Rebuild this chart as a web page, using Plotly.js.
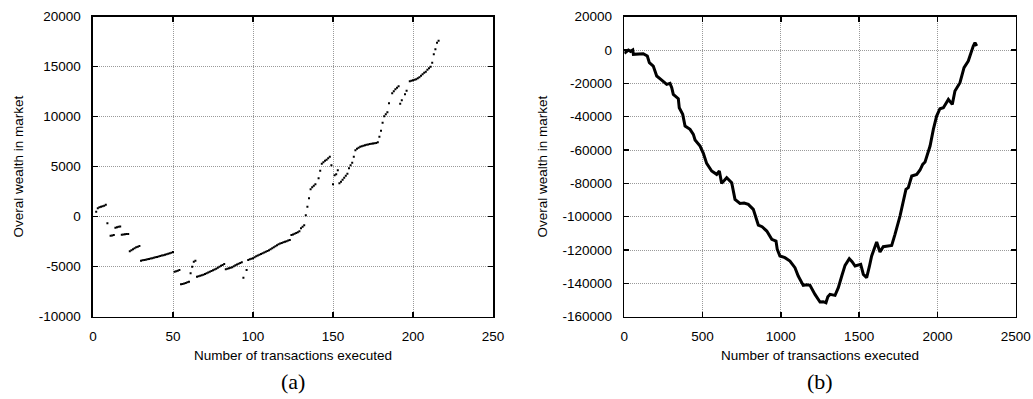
<!DOCTYPE html>
<html>
<head>
<meta charset="utf-8">
<script src="https://cdn.plot.ly/plotly-3.0.1.min.js"></script>
<style>html,body{margin:0;padding:0;background:#fff;}#chart{width:1033px;height:399px;}</style>
</head>
<body>
<div id="chart"></div>
<script>
// Panel (a): overall wealth vs transactions (scatter dots)
const aX = [2,3,4,5,6,7,8,9,11,12,13,14,15,16,17,18,19,20,21,22,
  23,24,25,26,27,28,29,
  30,31,32,33,34,35,36,37,38,39,40,41,42,43,44,45,46,47,48,49,50,
  51,52,53,54,55,56,57,58,59,60,61,62,63,64,
  65,66,67,68,69,70,71,72,73,74,75,76,77,78,79,80,81,82,
  83,84,85,86,87,88,89,90,91,92,93,94,96,
  97,98,99,100,101,102,103,104,105,106,107,108,109,110,111,112,113,114,115,116,117,118,119,120,121,122,123,
  124,125,126,127,128,129,130,131,132,133,134,135,136,137,138,139,141,142,143,144,145,146,147,148,149,
  150,151,152,153,154,155,156,157,158,159,160,161,162,163,
  164,165,166,167,168,169,170,171,172,173,174,175,176,177,178,
  179,180,181,182,183,184,185,187,188,189,190,191,192,193,195,196,
  198,199,200,201,202,203,204,205,206,207,208,209,210,211,212,213,214,215,216];
const aY = [500,850,950,1000,1050,1100,1200,-650,-1900,-1870,-1830,-1100,-1050,-1000,-980,-1800,-1780,-1760,-1740,-1720,
  -3450,-3350,-3250,-3150,-3050,-3000,-2930,
  -4400,-4360,-4330,-4300,-4260,-4220,-4190,-4150,-4100,-4060,-4020,-3980,-3930,-3890,-3850,-3800,-3750,-3700,-3650,-3600,-3520,
  -5500,-5450,-5400,-5330,-6750,-6720,-6680,-6620,-6560,-6500,-5650,-5000,-4500,-4400,
  -6000,-5950,-5900,-5850,-5800,-5720,-5650,-5580,-5500,-5420,-5350,-5270,-5200,-5100,-5000,-4900,-4820,-4730,
  -5260,-5200,-5150,-5100,-5050,-4950,-4850,-4780,-4700,-4620,-4560,-6100,-5330,
  -4330,-4250,-4200,-4150,-4050,-3950,-3870,-3800,-3720,-3650,-3580,-3500,-3420,-3350,-3250,-3150,-3050,-2950,-2850,-2760,-2690,-2620,-2560,-2500,-2450,-2390,-2330,
  -1830,-1780,-1700,-1620,-1550,-1450,-1150,-1000,-850,150,1000,1850,2750,2950,3100,3250,3850,4600,5300,5450,5600,5700,5850,6000,5150,
  3250,4150,4250,4650,3350,3500,3700,3900,4100,4300,4850,5150,5400,6000,
  6650,6800,6900,7000,7050,7100,7150,7200,7230,7260,7290,7320,7350,7380,7440,
  8000,8600,9400,10050,10250,10450,11350,12350,12550,12750,12900,13050,11300,11650,12250,12600,
  13550,13600,13650,13700,13750,13850,13950,14100,14250,14400,14500,14700,14850,15000,15400,16250,16750,17400,17600];

// Panel (b)
const bX = [0,4,15,26,40,54,58,90,121,147,160,185,207,239,271,292,303,313,345,351,373,388,420,441,452,484,505,526,547,558,590,607,622,654,686,707,739,765,792,824,856,880,910,942,969,977,994,1026,1058,1090,1111,1143,1165,1186,1218,1250,1270,1288,1300,1314,1346,1367,1389,1410,1437,1455,1474,1510,1527,1548,1565,1580,1612,1633,1654,1708,1729,1761,1799,1814,1836,1868,1889,1906,1921,1953,1974,1995,2016,2038,2070,2095,2112,2144,2170,2197,2229,2240,2251];
const bY = [-2000,-1600,-1000,0,-800,0,-2600,-2400,-2200,-3600,-7600,-9600,-15600,-18000,-20600,-20000,-22600,-26600,-29200,-34600,-38600,-45600,-47600,-50600,-54000,-57600,-62000,-68000,-71200,-72600,-74600,-72600,-80000,-76600,-79600,-89600,-92000,-91800,-92600,-95600,-105000,-106000,-108600,-113600,-114600,-119600,-123600,-124600,-126600,-130600,-135600,-141200,-140800,-141200,-146600,-151200,-151000,-151600,-148000,-146600,-147200,-142600,-135600,-129200,-125200,-127000,-129600,-128600,-134600,-136600,-130000,-123600,-115200,-121200,-118000,-117200,-110600,-99600,-83600,-82600,-75600,-74600,-72000,-68600,-67200,-57600,-47600,-39600,-35200,-34600,-29600,-32600,-24600,-19600,-10600,-6600,2400,4400,2400];

// Tick labels
const aXTicks = [0,50,100,150,200,250];
const aYTicks = [-10000,-5000,0,5000,10000,15000,20000];
const bXTicks = [0,500,1000,1500,2000,2500];
const bYTicks = [-160000,-140000,-120000,-100000,-80000,-60000,-40000,-20000,0,20000];
const xTitle = 'Number of transactions executed';
const yTitle = 'Overal wealth in market';
const captions = ['(a)','(b)'];

const FONT = 'Liberation Sans, Arial, Helvetica, sans-serif';
const SERIF = 'Liberation Serif, Times New Roman, serif';
const W = 1033, H = 399;

function axisCommon(extra){
  return Object.assign({
    showline:true, linecolor:'#000', linewidth:1.6, mirror:'ticks',
    ticks:'inside', ticklen:5, tickwidth:1.3, tickcolor:'#000',
    showgrid:true, gridcolor:'#9a9a9a', gridwidth:1, griddash:'1px,1px',
    zeroline:false, tickfont:{family:FONT, size:13.5, color:'#000'},
    fixedrange:true
  }, extra);
}

const traces = [
  {x:aX, y:aY, xaxis:'x', yaxis:'y', type:'scatter', mode:'markers',
   marker:{symbol:'square', size:2, color:'#000', line:{width:0}}, hoverinfo:'skip'},
  {x:bX, y:bY, xaxis:'x2', yaxis:'y2', type:'scatter', mode:'lines',
   line:{color:'#000', width:3}, hoverinfo:'skip'}
];

const yDom = [(H-316.7)/H, (H-16.7)/H];
const layout = {
  width:W, height:H, showlegend:false,
  paper_bgcolor:'#fff', plot_bgcolor:'#fff',
  margin:{l:0,r:0,t:0,b:0},
  font:{family:FONT, color:'#000'},
  xaxis: axisCommon({domain:[93/W, 493/W], range:[0,250], anchor:'y',
    tickvals:aXTicks, ticktext:aXTicks.map(String), ticklabelstandoff:6,
    title:{text:xTitle, font:{family:FONT,size:13.5,color:'#000'}, standoff:8}}),
  yaxis: axisCommon({domain:yDom, range:[-10000,20000], anchor:'x',
    tickvals:aYTicks, ticktext:aYTicks.map(String), ticklabelstandoff:8,
    title:{text:yTitle, font:{family:FONT,size:13.5,color:'#000'}, standoff:12}}),
  xaxis2: axisCommon({domain:[624.3/W, 1015.7/W], range:[0,2500], anchor:'y2',
    tickvals:bXTicks, ticktext:bXTicks.map(String), ticklabelstandoff:6,
    title:{text:xTitle, font:{family:FONT,size:13.5,color:'#000'}, standoff:8}}),
  yaxis2: axisCommon({domain:yDom, range:[-160000,20000], anchor:'x2',
    tickvals:bYTicks, ticktext:bYTicks.map(String), ticklabelstandoff:8,
    title:{text:yTitle, font:{family:FONT,size:13.5,color:'#000'}, standoff:12}}),
  annotations:[
    {text:captions[0], xref:'paper', yref:'paper', x:293/W, y:(H-381)/H, xanchor:'center', yanchor:'middle',
     showarrow:false, font:{family:SERIF, size:22, color:'#000'}},
    {text:captions[1], xref:'paper', yref:'paper', x:820/W, y:(H-381)/H, xanchor:'center', yanchor:'middle',
     showarrow:false, font:{family:SERIF, size:22, color:'#000'}}
  ]
};

Plotly.newPlot('chart', traces, layout, {displayModeBar:false, staticPlot:true});
</script>
</body>
</html>
